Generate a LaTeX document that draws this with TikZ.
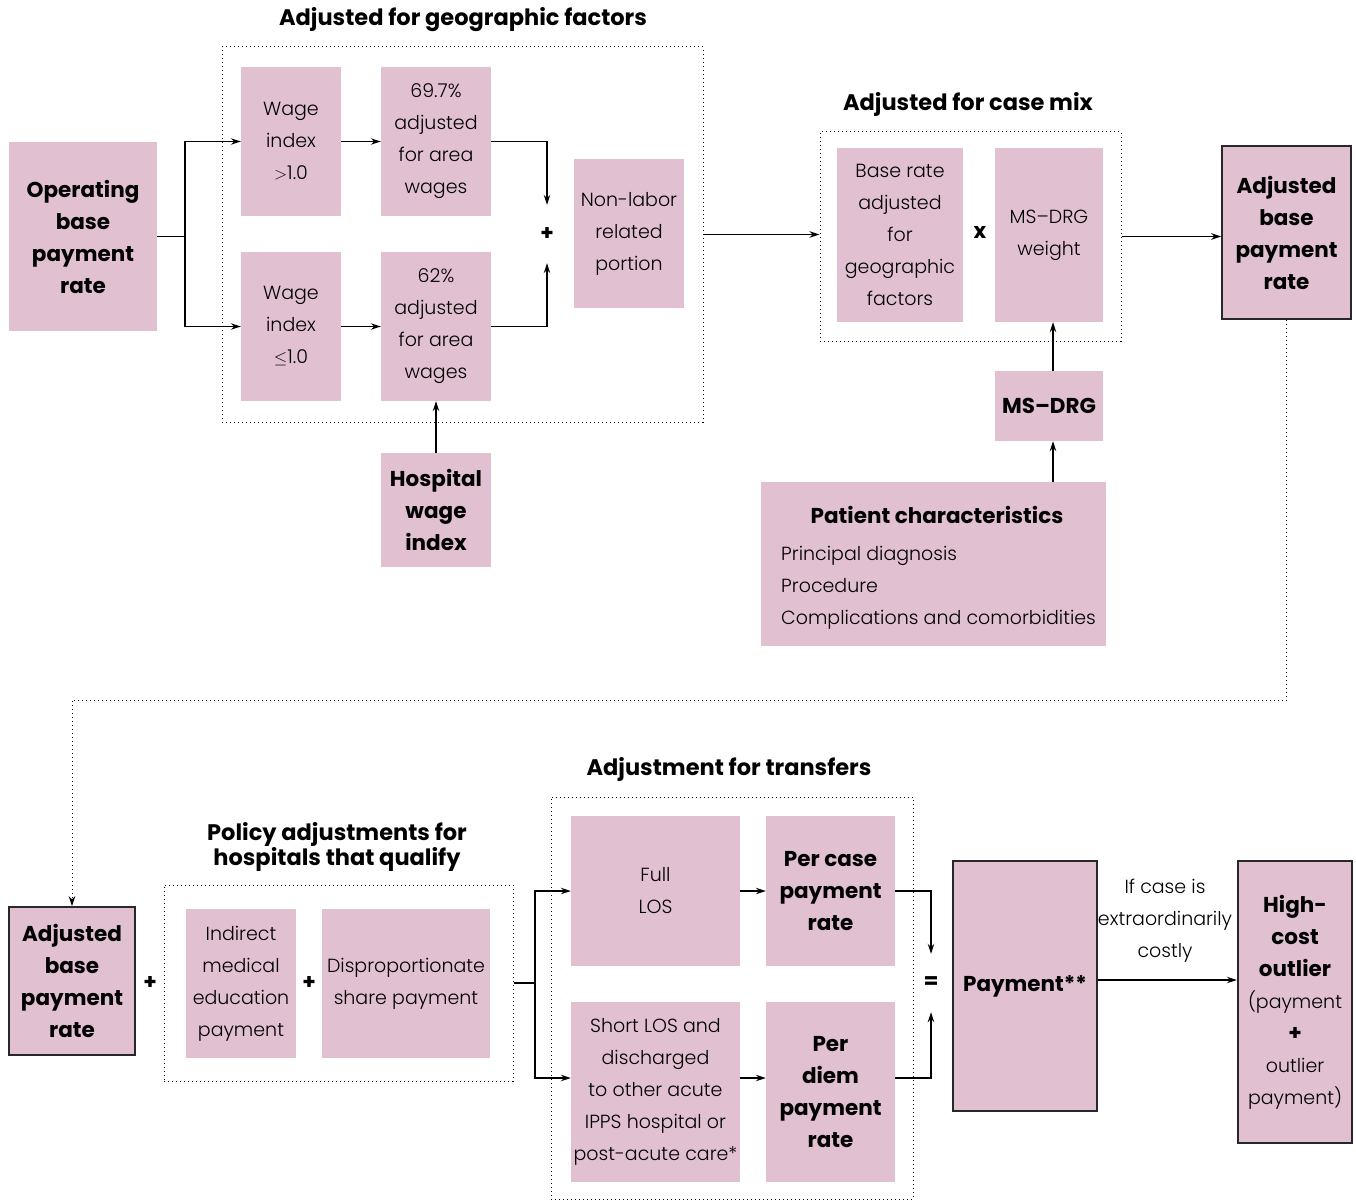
\documentclass[tikz,border=0pt]{standalone}
\usepackage{fontspec}
\setmainfont{Poppins}[UprightFont=* Light, BoldFont=* Bold]
\usetikzlibrary{arrows.meta,calc}
\definecolor{pink}{RGB}{225,192,209}
\definecolor{edge}{RGB}{40,40,40}
\tikzset{
  pbox/.style={fill=pink, inner sep=0pt, align=center, font=\lt},
  bbox/.style={pbox, draw=edge, line width=1.6pt, font=\bd},
  frame/.style={draw, line width=1pt, dash pattern=on 1pt off 3pt},
  arr/.style={draw, line width=1.1pt, -{Stealth[length=10pt,width=6.5pt]}},
  ln/.style={draw, line width=1.1pt},
  title/.style={font=\ttl, inner sep=0pt, align=center},
  op/.style={font=\bd, inner sep=0pt},
}
\newcommand{\lt}{\fontsize{19}{32}\selectfont\mdseries}
\newcommand{\bd}{\fontsize{21.5}{32}\selectfont\bfseries}
\newcommand{\ttl}{\fontsize{22.5}{24}\selectfont\bfseries}
\begin{document}
\begin{tikzpicture}[x=1pt,y=-1pt]
\useasboundingbox (0,0) rectangle (1356,1201);
% ---------- top left: geographic ----------
\node[title] (t1) at (463,20) {Adjusted for geographic factors};
\node[frame, minimum width=481, minimum height=375, inner sep=0pt] (geo) at (462.5,234.5) {};
\node[pbox, font=\bd, minimum width=148, minimum height=189] (opr) at (83,236.5) {Operating\\base\\payment\\rate};
\node[pbox, minimum width=100, minimum height=149] (w1) at (291,141.5) {Wage\\index\\$>$1.0};
\node[pbox, minimum width=110, minimum height=149] (a1) at (436,141.5) {69.7\%\\adjusted\\for area\\wages};
\node[pbox, minimum width=100, minimum height=149] (w2) at (291,326.5) {Wage\\index\\$\leq$1.0};
\node[pbox, minimum width=110, minimum height=149] (a2) at (436,326.5) {62\%\\adjusted\\for area\\wages};
\node[pbox, minimum width=110, minimum height=149] (nl) at (629,233.5) {Non-labor\\related\\portion};
\node[op, minimum height=58] (p1) at (547,234) {+};
\node[pbox, font=\bd, minimum width=110, minimum height=114] (hw) at (436,510) {Hospital\\wage\\index};
\coordinate (j1) at (185,236.5);
\draw[ln] (opr.east) -- (j1);
\draw[arr] (j1) |- (w1.west);
\draw[arr] (j1) |- (w2.west);
\draw[arr] (w1) -- (a1);
\draw[arr] (w2) -- (a2);
\draw[arr] (a1.east) -| (p1.north);
\draw[arr] (a2.east) -| (p1.south);
\draw[arr] (hw) -- (a2);
% ---------- case mix ----------
\node[title] (t2) at (968,104) {Adjusted for case mix};
\node[frame, minimum width=301, minimum height=209, inner sep=0pt] (cm) at (970.5,236.5) {};
\node[pbox, minimum width=126, minimum height=174] (br) at (900,235) {Base rate\\adjusted\\for\\geographic\\factors};
\node[op] (x1) at (980,233) {x};
\node[pbox, minimum width=108, minimum height=174] (wt) at (1049,235) {MS–DRG\\weight};
\node[pbox, font=\bd, minimum width=108, minimum height=70] (ms) at (1049,406) {MS–DRG};
\node[pbox, minimum width=345, minimum height=164] (pc) at (933.5,564) {};
\node[font=\bd, inner sep=0pt] (pct) at (937,515) {Patient characteristics};
\node[font=\lt, inner sep=0pt, anchor=west, align=left] (pcl) at (781,588) {Principal diagnosis\\Procedure\\Complications and comorbidities};
\node[bbox, minimum width=129, minimum height=173] (ad1) at (1286.5,232.5) {Adjusted\\base\\payment\\rate};
\draw[arr] (geo.east) -- (geo.east -| cm.west);
\draw[arr] (cm.east) -- (cm.east -| ad1.west);
\draw[arr] ([xshift=4pt]ms.north) -- ([xshift=4pt]wt.south);
\draw[arr] ([xshift=4pt]pc.north -| ms.south) -- ([xshift=4pt]ms.south);
% ---------- bottom ----------
\coordinate (turn) at (72,700);
\node[bbox, minimum width=126, minimum height=148] (ad2) at (72,981) {Adjusted\\base\\payment\\rate};
\draw[frame, -{Stealth[length=10pt,width=6.5pt]}] (ad1.south) |- (turn) -- (ad2.north);
\node[op] (p2) at (150,983) {+};
\node[title] (t3) at (337,847) {Policy adjustments for\\hospitals that qualify};
\node[frame, minimum width=349, minimum height=196, inner sep=0pt] (pol) at (338.5,983) {};
\node[pbox, minimum width=110, minimum height=149] (ime) at (241,983.5) {Indirect\\medical\\education\\payment};
\node[op] (p3) at (309,983) {+};
\node[pbox, minimum width=168, minimum height=149] (dsh) at (406,983.5) {Disproportionate\\share payment};
\node[title] (t4) at (729,769) {Adjustment for transfers};
\node[frame, minimum width=362, minimum height=402, inner sep=0pt] (tr) at (732,998) {};
\node[pbox, minimum width=169, minimum height=150] (full) at (655.5,891) {Full\\LOS};
\node[pbox, font=\bd, minimum width=129, minimum height=150] (pcase) at (830.5,891) {Per case\\payment\\rate};
\node[pbox, minimum width=169, minimum height=180] (short) at (655.5,1092) {Short LOS and\\discharged\\to other acute\\IPPS hospital or\\post-acute care*};
\node[pbox, font=\bd, minimum width=129, minimum height=180] (pdiem) at (830.5,1092) {Per\\diem\\payment\\rate};
\coordinate (j2) at (535,983);
\draw[ln] (pol.east) -- (j2);
\draw[arr] (j2) |- (full.west);
\draw[arr] (j2) |- ([yshift=14pt]short.west);
\draw[arr] (full) -- (pcase);
\draw[arr] ([yshift=14pt]short.east) -- ([yshift=14pt]pdiem.west);
\node[op, minimum height=58] (eq) at (931,983) {=};
\draw[arr] (pcase.east) -| (eq.north);
\draw[arr] ([yshift=14pt]pdiem.east) -| (eq.south);
\node[bbox, line width=2.4pt, minimum width=144, minimum height=250] (pay) at (1025,986) {Payment**};
\node[bbox, line width=2.4pt, minimum width=114, minimum height=282] (hc) at (1295,1002)
  {High-\\cost\\outlier\\{\lt(payment}\\+\\{\lt outlier}\\{\lt payment)}};
\draw[arr] ([yshift=6pt]pay.east) -- ([yshift=6pt]pay.east -| hc.west);
\node[font=\lt, inner sep=0pt, align=center] (lbl) at (1165,921) {If case is\\extraordinarily\\costly};
\end{tikzpicture}
\end{document}
